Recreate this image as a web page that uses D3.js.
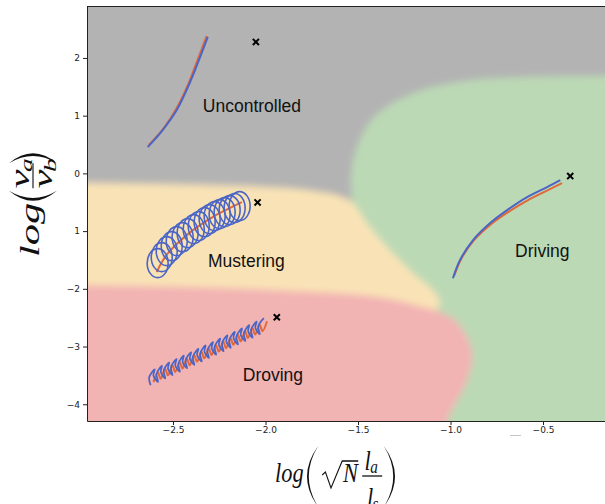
<!DOCTYPE html>
<html>
<head>
<meta charset="utf-8">
<script src="https://cdnjs.cloudflare.com/ajax/libs/d3/7.8.5/d3.min.js"></script>
<style>
  html, body { margin: 0; padding: 0; background: #fff; }
  svg { display: block; }
  .tick text { font-family: "DejaVu Sans", sans-serif; font-size: 9px; fill: #222; }
  .region-label { font-family: "Liberation Sans", Arial, sans-serif; font-size: 17.5px; fill: #111; }
  .math { font-family: "Liberation Serif", "DejaVu Serif", serif; font-style: italic; fill: #111; }
</style>
</head>
<body>
<svg id="chart" width="605" height="504"></svg>
<script>
// ticks
var xTicks = [-2.5, -2.0, -1.5, -1.0, -0.5];
var xTickLabels = ["−2.5", "−2.0", "−1.5", "−1.0", "−0.5"];
var yTicks = [-4, -3, -2, -1, 0, 1, 2];
var yTickLabels = ["−4", "−3", "−2", "1", "0", "1", "2"];

// behaviour regions (boundary outlines, data coords)
var regionNames = ["Uncontrolled", "Mustering", "Driving", "Droving"];
var regionLabelAt = [[-2.339, 1.063], [-2.311, -1.625], [-0.651, -1.451], [-2.123, -3.602]];

var drivingArea = [[0.350, 1.722], [-0.164, 1.687], [-0.570, 1.670], [-0.878, 1.618], [-1.111, 1.479],
  [-1.235, 1.340], [-1.354, 1.132], [-1.436, 0.890], [-1.490, 0.577], [-1.528, 0.196], [-1.538, -0.203],
  [-1.533, -0.463], [-1.571, -1.157], [-1.652, -2.196], [-1.652, -4.972], [0.350, -4.972]];
var musteringArea = [[-3.221, -0.168], [-2.967, -0.168], [-2.356, -0.203], [-1.896, -0.255], [-1.706, -0.324],
  [-1.598, -0.394], [-1.533, -0.498], [-1.436, -0.931], [-1.327, -1.330], [-1.203, -1.729], [-1.095, -2.024],
  [-1.057, -2.232], [-1.078, -2.370], [-1.165, -2.440], [-1.814, -2.544], [-3.221, -2.544]];
var drovingArea = [[-3.221, -1.937], [-2.967, -1.937], [-2.356, -1.972], [-1.923, -2.024], [-1.382, -2.145],
  [-1.165, -2.301], [-1.057, -2.405], [-0.976, -2.544], [-0.911, -2.839], [-0.883, -3.151], [-0.911, -3.584],
  [-0.965, -3.931], [-1.019, -4.278], [-1.073, -4.972], [-3.221, -4.972]];

// trajectories
var uncontrolledOrange = [[-2.631, 0.491], [-2.550, 0.786], [-2.480, 1.132], [-2.415, 1.566], [-2.372, 1.930], [-2.345, 2.155], [-2.318, 2.381]];
var uncontrolledBlue = [[-2.637, 0.456], [-2.556, 0.751], [-2.480, 1.098], [-2.410, 1.566], [-2.366, 1.913], [-2.339, 2.138], [-2.312, 2.364]];

var musterOrange = [[-2.588, -1.711], [-2.561, -1.538], [-2.518, -1.347], [-2.464, -1.174], [-2.399, -1.001],
  [-2.329, -0.845], [-2.259, -0.706], [-2.194, -0.601], [-2.128, -0.497]];
var musterLoops = [[-2.583, -1.555], [-2.561, -1.451], [-2.534, -1.347], [-2.507, -1.261], [-2.480, -1.174],
  [-2.448, -1.105], [-2.421, -1.035], [-2.388, -0.966], [-2.361, -0.914], [-2.329, -0.845], [-2.302, -0.792],
  [-2.275, -0.740], [-2.248, -0.706], [-2.221, -0.671], [-2.194, -0.636], [-2.167, -0.601], [-2.140, -0.567]];

var droveOrange = [[-2.606, -3.617], [-2.582, -3.447], [-2.567, -3.558], [-2.543, -3.388], [-2.527, -3.499], [-2.503, -3.329],
  [-2.488, -3.440], [-2.464, -3.270], [-2.449, -3.381], [-2.425, -3.211], [-2.410, -3.323], [-2.386, -3.153],
  [-2.370, -3.264], [-2.346, -3.094], [-2.331, -3.205], [-2.307, -3.035], [-2.292, -3.146], [-2.268, -2.976],
  [-2.252, -3.087], [-2.228, -2.917], [-2.213, -3.028], [-2.189, -2.858], [-2.174, -2.969], [-2.150, -2.799],
  [-2.134, -2.910], [-2.110, -2.740], [-2.095, -2.851], [-2.071, -2.681], [-2.056, -2.792], [-2.032, -2.622],
  [-2.016, -2.733], [-1.992, -2.563]];
var droveBlue = [
  [-2.621, -3.671], [-2.629, -3.532], [-2.599, -3.394], [-2.606, -3.503],
  [-2.581, -3.612], [-2.589, -3.473], [-2.560, -3.335], [-2.566, -3.444],
  [-2.542, -3.553], [-2.550, -3.414], [-2.521, -3.276], [-2.527, -3.385],
  [-2.503, -3.494], [-2.511, -3.355], [-2.481, -3.217], [-2.488, -3.326],
  [-2.463, -3.435], [-2.471, -3.296], [-2.442, -3.158], [-2.448, -3.267],
  [-2.424, -3.376], [-2.432, -3.237], [-2.402, -3.099], [-2.409, -3.208],
  [-2.385, -3.317], [-2.393, -3.178], [-2.363, -3.040], [-2.370, -3.149],
  [-2.345, -3.258], [-2.353, -3.120], [-2.324, -2.981], [-2.330, -3.090],
  [-2.306, -3.199], [-2.314, -3.061], [-2.284, -2.922], [-2.291, -3.031],
  [-2.267, -3.140], [-2.275, -3.002], [-2.245, -2.863], [-2.252, -2.972],
  [-2.227, -3.081], [-2.235, -2.943], [-2.206, -2.804], [-2.212, -2.913],
  [-2.188, -3.022], [-2.196, -2.884], [-2.166, -2.745], [-2.173, -2.854],
  [-2.149, -2.963], [-2.157, -2.825], [-2.127, -2.686], [-2.134, -2.795],
  [-2.109, -2.904], [-2.117, -2.766], [-2.088, -2.627], [-2.094, -2.736],
  [-2.070, -2.846], [-2.078, -2.707], [-2.048, -2.568], [-2.055, -2.677],
  [-2.031, -2.787], [-2.039, -2.648], [-2.009, -2.509]];

var drivingOrange = [[-0.981, -1.781], [-0.943, -1.486], [-0.873, -1.156], [-0.781, -0.879], [-0.689, -0.671], [-0.581, -0.463], [-0.473, -0.290], [-0.397, -0.168]];
var drivingBlue = [[-0.987, -1.816], [-0.949, -1.503], [-0.878, -1.156], [-0.786, -0.861], [-0.694, -0.636], [-0.586, -0.410], [-0.478, -0.237], [-0.407, -0.116]];

// goal positions (black crosses)
var goals = [[-2.052, 2.277], [-2.043, -0.503], [-1.939, -2.492], [-0.353, -0.047]];

var svg = d3.select("#chart");
var plotL = 87, plotR = 605, plotT = 6, plotB = 421;

var x = d3.scaleLinear().domain([-2.965, -0.165]).range([plotL, plotR]);
var y = d3.scaleLinear().domain([-4.29, 2.9]).range([plotB, plotT]);

var blue = "#4a65c6", orange = "#e0683a";

var defs = svg.append("defs");
defs.append("clipPath").attr("id", "plotclip")
  .append("rect").attr("x", plotL).attr("y", plotT).attr("width", plotR - plotL).attr("height", plotB - plotT);
defs.append("filter").attr("id", "soft")
  .attr("filterUnits", "userSpaceOnUse").attr("x", 0).attr("y", 0).attr("width", 700).attr("height", 600)
  .append("feGaussianBlur").attr("stdDeviation", 3.5);

var area = d3.line().x(function(d) { return x(d[0]); }).y(function(d) { return y(d[1]); })
  .curve(d3.curveCatmullRomClosed.alpha(0.5));
var path = d3.line().x(function(d) { return x(d[0]); }).y(function(d) { return y(d[1]); })
  .curve(d3.curveCatmullRom.alpha(0.5));

// background regions
var bg = svg.append("g").attr("clip-path", "url(#plotclip)")
  .append("g").attr("filter", "url(#soft)");
bg.append("rect").attr("x", plotL - 40).attr("y", plotT - 40).attr("width", plotR - plotL + 80).attr("height", plotB - plotT + 80)
  .attr("fill", "#b3b3b3");
bg.append("path").attr("d", area(drivingArea)).attr("fill", "#bbd9b5");
bg.append("path").attr("d", area(musteringArea)).attr("fill", "#f9e3b6");
bg.append("path").attr("d", area(drovingArea)).attr("fill", "#f2b3b3");

var plot = svg.append("g").attr("clip-path", "url(#plotclip)");

// orange underneath, blue on top
[uncontrolledOrange, musterOrange, droveOrange, drivingOrange].forEach(function(d) {
  plot.append("path").attr("d", path(d)).attr("fill", "none")
    .attr("stroke", orange).attr("stroke-width", 2).attr("stroke-linejoin", "round");
});
[uncontrolledBlue, drivingBlue].forEach(function(d) {
  plot.append("path").attr("d", path(d)).attr("fill", "none")
    .attr("stroke", blue).attr("stroke-width", 2).attr("stroke-linejoin", "round");
});
plot.append("path").attr("d", path(droveBlue)).attr("fill", "none")
  .attr("stroke", blue).attr("stroke-width", 1.7).attr("stroke-linejoin", "round");
plot.selectAll(".loop").data(musterLoops).enter().append("ellipse")
  .attr("class", "loop")
  .attr("cx", function(d) { return x(d[0]); })
  .attr("cy", function(d) { return y(d[1]); })
  .attr("rx", 10.5).attr("ry", 14.5)
  .attr("fill", "none").attr("stroke", blue).attr("stroke-width", 1.6);

plot.selectAll(".goal").data(goals).enter().append("path")
  .attr("class", "goal")
  .attr("transform", function(d) { return "translate(" + x(d[0]) + "," + y(d[1]) + ")"; })
  .attr("d", d3.symbol().type(d3.symbolX).size(26))
  .attr("stroke", "#000").attr("stroke-width", 2);

plot.selectAll(".region-label").data(regionNames).enter().append("text")
  .attr("class", "region-label")
  .attr("x", function(d, i) { return x(regionLabelAt[i][0]); })
  .attr("y", function(d, i) { return y(regionLabelAt[i][1]); })
  .text(function(d) { return d; });

// axes
svg.append("g").attr("transform", "translate(0," + plotB + ")")
  .call(d3.axisBottom(x).tickValues(xTicks).tickFormat(function(d, i) { return xTickLabels[i]; })
    .tickSize(4).tickSizeOuter(0).tickPadding(2));
svg.append("g").attr("transform", "translate(" + plotL + ",0)")
  .call(d3.axisLeft(y).tickValues(yTicks).tickFormat(function(d, i) { return yTickLabels[i]; })
    .tickSize(4).tickSizeOuter(0).tickPadding(3));
svg.selectAll(".domain, .tick line").attr("stroke", "#222");
svg.append("line").attr("x1", plotL).attr("x2", plotR).attr("y1", plotT + 0.5).attr("y2", plotT + 0.5)
  .attr("stroke", "#222");

// stray mark under the axis
svg.append("line").attr("x1", 510).attr("x2", 521).attr("y1", 435.5).attr("y2", 435.5)
  .attr("stroke", "#c4c4c4");

// big parenthesis as a filled crescent
function paren(g, x0, x1, t, b, open) {
  var m = (t + b) / 2, w = 2.2;
  var c1 = 2 * x0 - x1, c2 = 2 * (x0 + (open ? w : -w)) - x1;
  g.append("path").attr("fill", "#111")
    .attr("d", "M" + x1 + "," + t + " Q" + c1 + "," + m + " " + x1 + "," + b +
      " Q" + c2 + "," + m + " " + x1 + "," + t + "Z");
}

// x label: log( sqrt(N) l_a / l_s )
var xl = svg.append("g").attr("transform", "translate(275,476) scale(0.8,1)");
xl.append("text").attr("class", "math").attr("x", 0).attr("y", 6).attr("font-size", 28).text("log");
paren(xl, 40, 54, -30, 31, true);
xl.append("path").attr("fill", "none").attr("stroke", "#111").attr("stroke-width", 1.4)
  .attr("d", "M59,-1 L63,-4 L70,12 L84,-15 L104,-15");
xl.append("text").attr("class", "math").attr("x", 85).attr("y", 6).attr("font-size", 28).text("N");
xl.append("line").attr("x1", 109).attr("x2", 134).attr("y1", 0).attr("y2", 0).attr("stroke", "#111").attr("stroke-width", 1.3);
xl.append("text").attr("class", "math").attr("x", 112).attr("y", -6).attr("font-size", 28).text("l");
xl.append("text").attr("class", "math").attr("x", 119).attr("y", -3).attr("font-size", 19).text("a");
xl.append("text").attr("class", "math").attr("x", 115).attr("y", 31).attr("font-size", 28).text("l");
xl.append("text").attr("class", "math").attr("x", 122).attr("y", 34).attr("font-size", 19).text("s");
paren(xl, 150, 136, -30, 31, false);

// y label: log( v_a / v_b ), rotated
var yl = svg.append("g").attr("transform", "translate(33,257) scale(0.8,1.25) rotate(-90)");
yl.append("text").attr("class", "math").attr("x", 0).attr("y", 8).attr("font-size", 34).text("log");
paren(yl, 45, 53, -30, 30, true);
yl.append("line").attr("x1", 55).attr("x2", 75).attr("y1", 0).attr("y2", 0).attr("stroke", "#111").attr("stroke-width", 1.4);
yl.append("text").attr("class", "math").attr("x", 55).attr("y", -5).attr("font-size", 34).text("v");
yl.append("text").attr("class", "math").attr("x", 68).attr("y", -1).attr("font-size", 22).text("a");
yl.append("text").attr("class", "math").attr("x", 55).attr("y", 24).attr("font-size", 34).text("v");
yl.append("text").attr("class", "math").attr("x", 68).attr("y", 29).attr("font-size", 22).text("b");
paren(yl, 83, 75, -30, 30, false);
</script>
</body>
</html>
